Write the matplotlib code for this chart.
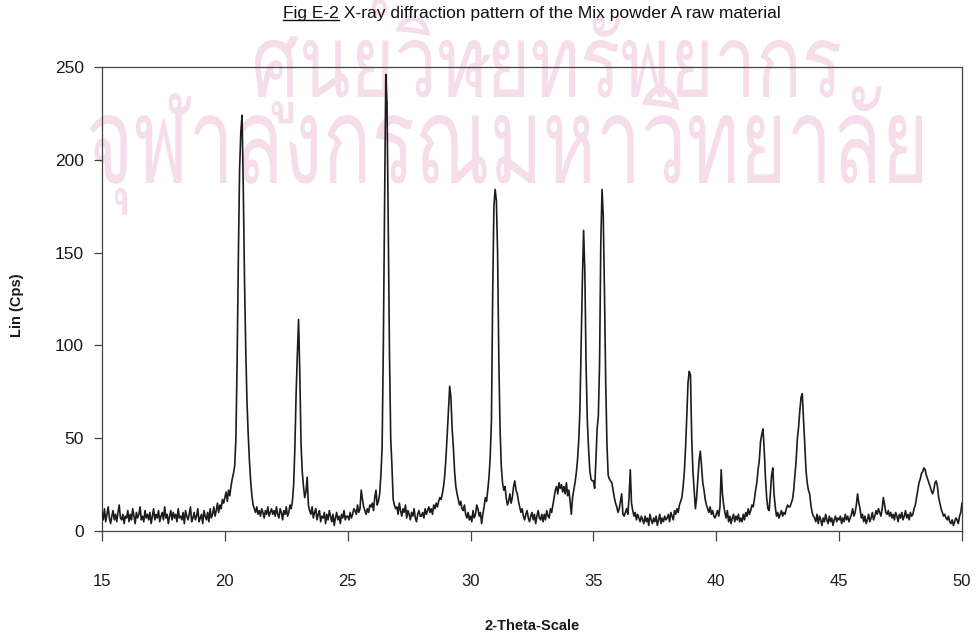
import numpy as np
import matplotlib
matplotlib.use("Agg")
import matplotlib.pyplot as plt
from matplotlib import font_manager
from matplotlib.font_manager import FontProperties
from matplotlib.ft2font import FT2Font
from matplotlib.lines import Line2D
from matplotlib.textpath import TextPath
from matplotlib.patches import PathPatch
from matplotlib.transforms import Affine2D

# ---- scan settings and measured counts (one row per degree, 0.05 deg step) ----
scan_start = 15.0
scan_step = 0.05
counts = [
    10, 6, 12, 5, 9, 13, 7, 4, 8, 11, 6, 9, 5, 10, 14, 7, 6, 9, 4, 8,             # 15
    7, 11, 5, 9, 6, 12, 8, 4, 10, 7, 9, 13, 6, 8, 5, 11, 7, 9, 6, 10,             # 16
    4, 8, 12, 6, 9, 7, 11, 5, 8, 10, 6, 13, 7, 9, 4, 8, 11, 6, 10, 7,             # 17
    9, 5, 12, 7, 8, 6, 10, 4, 11, 8, 6, 9, 13, 5, 7, 10, 6, 8, 12, 5,             # 18
    7, 9, 4, 11, 8, 6, 10, 5, 12, 7, 9, 13, 8, 11, 15, 10, 14, 12, 17, 15,        # 19
    18, 21, 16, 22, 19, 24, 28, 31, 35, 50, 92, 148, 195, 215, 224, 185, 135, 98, 70, 52,  # 20
    38, 27, 19, 14, 12, 10, 13, 9, 11, 8, 12, 10, 7, 11, 9, 13, 8, 10, 12, 9,     # 21
    11, 8, 13, 9, 7, 12, 10, 6, 11, 9, 13, 8, 10, 14, 12, 16, 25, 45, 74, 95,     # 22
    114, 85, 47, 32, 24, 18, 21, 29, 14, 11, 9, 13, 7, 10, 12, 6, 9, 11, 5, 8,    # 23
    7, 10, 4, 9, 6, 11, 8, 5, 9, 3, 7, 10, 6, 8, 4, 9, 7, 11, 6, 8,               # 24
    8, 6, 10, 7, 9, 12, 11, 9, 14, 10, 12, 22, 17, 13, 11, 9, 12, 10, 14, 13,     # 25
    15, 11, 18, 22, 14, 16, 20, 30, 45, 100, 175, 246, 230, 164, 95, 50, 35, 17, 14, 12,  # 26
    13, 9, 15, 11, 8, 12, 10, 14, 7, 11, 9, 6, 10, 8, 12, 7, 5, 9, 11, 8,         # 27
    8, 10, 7, 12, 9, 11, 13, 10, 12, 9, 14, 12, 15, 13, 16, 18, 17, 20, 24, 30,   # 28
    40, 52, 65, 78, 72, 55, 45, 32, 24, 20, 17, 14, 16, 12, 11, 14, 9, 7, 10, 6,  # 29
    8, 5, 11, 7, 9, 14, 12, 8, 10, 4, 9, 13, 18, 16, 22, 29, 40, 60, 128, 175,   # 30
    184, 178, 150, 92, 55, 35, 26, 22, 24, 18, 14, 16, 20, 15, 18, 24, 27, 22, 20, 16,  # 31
    13, 10, 12, 8, 6, 9, 11, 7, 5, 8, 10, 6, 9, 4, 8, 11, 7, 6, 9, 5,             # 32
    9, 6, 11, 8, 7, 12, 10, 14, 18, 22, 24, 20, 26, 23, 25, 21, 24, 20, 26, 19,   # 33
    22, 16, 9, 18, 22, 26, 31, 38, 48, 65, 100, 135, 162, 140, 90, 60, 45, 33, 28, 27,  # 34
    27, 23, 38, 55, 62, 90, 155, 184, 170, 128, 80, 47, 30, 28, 27, 26, 22, 18, 15, 13,  # 35
    10, 12, 16, 20, 9, 8, 10, 12, 9, 18, 33, 15, 11, 8, 10, 6, 9, 7, 5, 8,        # 36
    6, 4, 8, 5, 7, 3, 9, 6, 4, 7, 5, 8, 3, 6, 9, 4, 7, 5, 8, 6,                   # 37
    7, 9, 5, 10, 8, 6, 11, 9, 12, 10, 14, 16, 18, 24, 32, 45, 62, 80, 86, 84,     # 38
    50, 32, 22, 12, 18, 28, 38, 43, 35, 26, 22, 17, 14, 12, 10, 13, 9, 11, 8, 7,  # 39
    9, 11, 8, 13, 33, 20, 14, 10, 7, 11, 5, 8, 4, 7, 9, 5, 8, 6, 9, 5,            # 40
    7, 5, 9, 6, 10, 8, 12, 9, 11, 14, 13, 17, 22, 26, 33, 38, 48, 52, 55, 44,     # 41
    29, 18, 12, 11, 20, 30, 34, 20, 13, 8, 10, 7, 9, 11, 8, 10, 9, 12, 14, 13,    # 42
    13, 15, 17, 22, 30, 38, 50, 56, 65, 72, 74, 60, 47, 33, 26, 22, 20, 14, 10, 8,  # 43
    7, 5, 9, 4, 8, 6, 3, 7, 5, 9, 6, 4, 8, 5, 7, 3, 6, 8, 5, 7,                   # 44
    6, 8, 4, 7, 5, 9, 6, 8, 5, 7, 9, 12, 8, 10, 14, 20, 15, 12, 7, 9,             # 45
    5, 8, 4, 6, 9, 5, 7, 10, 6, 8, 11, 9, 12, 10, 8, 12, 18, 14, 10, 9,           # 46
    11, 8, 10, 7, 9, 6, 10, 8, 5, 9, 7, 10, 6, 8, 11, 7, 9, 6, 10, 8,             # 47
    9, 12, 14, 18, 22, 26, 28, 31, 32, 34, 33, 30, 28, 26, 24, 22, 20, 22, 26, 27,  # 48
    24, 18, 15, 12, 10, 8, 9, 7, 6, 8, 5, 4, 6, 3, 5, 7, 6, 4, 8, 10,             # 49
    15,                                                                          # 50
]
two_theta = scan_start + scan_step * np.arange(len(counts))

x_ticks = [15, 20, 25, 30, 35, 40, 45, 50]
y_ticks = [0, 50, 100, 150, 200, 250]

title_prefix = "Fig E-2"
title_rest = " X-ray diffraction pattern of the Mix powder A raw material"
x_label = "2-Theta-Scale"
y_label = "Lin (Cps)"
watermark_lines = ["ศูนย์วิทยทรัพยากร", "จุฬาลงกรณ์มหาวิทยาลัย"]

W, H = 976, 642
plt.rcParams["font.family"] = ["Liberation Sans", "DejaVu Sans"]
plt.rcParams["path.simplify"] = False

fig = plt.figure(figsize=(W / 100, H / 100), dpi=100)
fig.patch.set_facecolor("white")


def find_thai_family():
    for f in font_manager.fontManager.ttflist:
        try:
            ft = FT2Font(f.fname)
            if ft.get_char_index(ord("ศ")) and ft.get_char_index(ord("ณ")):
                return f.name
        except Exception:
            continue
    return None


thai_family = find_thai_family()
renderer = fig.canvas.get_renderer()

# faint library stamp behind the plot: (left px, baseline px, width px, consonant height px)
wm_color = "#f5ddea"
wm_boxes = [(255, 97, 585, 57), (90, 183, 832, 68)]
if thai_family:
    fp = FontProperties(family=thai_family, weight="normal")
    ref_h = TextPath((0, 0), "ก", size=100, prop=fp).get_extents().height
    for text, (x0, base, width, cons_h) in zip(watermark_lines, wm_boxes):
        tp = TextPath((0, 0), text, size=100, prop=fp)
        ext = tp.get_extents()
        sx = width / ext.width
        sy = cons_h / ref_h
        tr = (Affine2D().translate(-ext.x0, 0).scale(sx, sy)
              .translate(x0, H - base).scale(1 / W, 1 / H))
        fig.add_artist(PathPatch(tr.transform_path(tp), transform=fig.transFigure,
                                 facecolor=wm_color, edgecolor="none", zorder=0))

ax = fig.add_axes([102 / W, 1 - 531 / H, 860 / W, 464 / H])
ax.set_facecolor("none")
ax.plot(two_theta, counts, color="#1c1c1c", lw=1.2, zorder=3)

ax.set_xlim(15, 50)
ax.set_ylim(0, 250)
ax.set_xticks(x_ticks)
ax.set_yticks(y_ticks)
for s in ax.spines.values():
    s.set_color("#444444")
    s.set_linewidth(0.9)
ax.tick_params(axis="x", direction="out", length=7, width=0.9, color="#444444",
               pad=24, labelsize=12, labelcolor="#1a1a1a")
ax.tick_params(axis="y", direction="out", length=6, width=0.9, color="#444444",
               pad=7, labelsize=12.5, labelcolor="#1a1a1a")

fig.text(532 / W, 1 - 626 / H, x_label, ha="center", va="center",
         fontsize=10.5, fontweight="bold", color="#1a1a1a")
fig.text(17 / W, 1 - 305 / H, y_label, ha="center", va="center", rotation=90,
         fontsize=10.5, fontweight="bold", color="#1a1a1a")

# title with underlined figure number
base_y = 1 - 18 / H
t1 = fig.text(283 / W, base_y, title_prefix, ha="left", va="baseline",
              fontsize=12.5, color="#111111")
b1 = t1.get_window_extent(renderer)
fig.text(b1.x1 / W, base_y, title_rest, ha="left", va="baseline",
         fontsize=12.5, color="#111111")
uy = base_y - 2 / H
fig.add_artist(Line2D([b1.x0 / W, b1.x1 / W], [uy, uy], transform=fig.transFigure,
                      color="#111111", lw=1.0))

fig.savefig("out.png", dpi=100, facecolor="white")
